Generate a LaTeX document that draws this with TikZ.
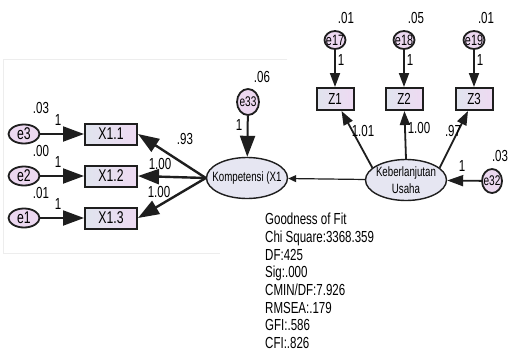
\documentclass[tikz,border=0pt]{standalone}
\usepackage{fontspec}
\setmainfont[FakeStretch=0.72]{Liberation Sans}
\usetikzlibrary{arrows.meta,shapes.geometric}

\definecolor{boxleft}{RGB}{224,228,238}
\definecolor{boxright}{RGB}{238,218,242}
\definecolor{errfill}{RGB}{236,216,240}
\definecolor{latfill}{RGB}{230,230,242}
\definecolor{edge}{RGB}{30,30,30}

\tikzset{
	obsbox/.style={draw=edge, line width=2pt, left color=boxleft, right color=boxright, minimum width=52pt, minimum height=21pt, inner sep=0pt, font=\fontsize{17}{17}\selectfont},
	zbox/.style={obsbox, minimum width=37pt, minimum height=22pt, font=\fontsize{16}{16}\selectfont},
	errshape/.style={ellipse, draw=edge, line width=1.8pt, fill=errfill, inner sep=0pt, minimum width=31pt, minimum height=19pt},
	errnode/.style={errshape, label={[font=\fontsize{17}{17}\selectfont, inner sep=0pt]center:#1}},
	smallerr/.style={errshape, minimum width=21pt, minimum height=18pt, label={[font=\fontsize{15}{15}\selectfont, inner sep=0pt]center:#1}},
	talleerr/.style={errshape, minimum width=21pt, minimum height=25pt, label={[font=\fontsize{14}{14}\selectfont, inner sep=0pt]center:#1}},
	latnode/.style={ellipse, draw=edge, line width=1.4pt, fill=latfill, inner sep=0pt, minimum width=81pt, minimum height=41pt, label={[font=\fontsize{13.5}{17}\selectfont, inner sep=0pt, align=center]center:#1}},
	est/.style={font=\fontsize{16}{16}\selectfont, inner sep=0pt},
	bigarrow/.style={-{Triangle[length=21pt,width=15pt]}, line width=2pt, draw=edge},
	midarrow/.style={-{Triangle[length=14pt,width=10pt]}, line width=1.8pt, draw=edge},
	smallarrow/.style={-{Triangle[length=8pt,width=7pt]}, line width=1.2pt, draw=edge}
}

\begin{document}
\begin{tikzpicture}[x=1pt,y=-1pt]
		%%%%% START %%%%%
		\useasboundingbox[fill=white] (0,0) rectangle (508,351);
		\draw[black!7, line width=0.8pt] (287,59) -- (3,59) -- (3,253) -- (220,253);
		
		% indicators of Kompetensi
		\node[obsbox] (x11) at (111,134) {X1.1};
		\node[obsbox] (x12) at (111,176) {X1.2};
		\node[obsbox] (x13) at (111,218) {X1.3};
		\node[errnode=e3] (e3) at (24,134) {};
		\node[errnode=e2] (e2) at (24,176) {};
		\node[errnode=e1] (e1) at (24,218) {};
		
		% latent variables
		\node[latnode={Kompetensi (X1}] (komp) at (247,178) {};
		\node[latnode={Keberlanjutan\\Usaha}] (keb) at (406,180) {};
		\node[talleerr=e33, minimum width=22pt, minimum height=26pt] (e33) at (248,102) {};
		\node[talleerr=e32, minimum width=20pt, minimum height=24pt] (e32) at (492,181) {};
		
		% indicators of Keberlanjutan Usaha
		\node[zbox] (z1) at (335,99) {Z1};
		\node[zbox] (z2) at (404,99) {Z2};
		\node[zbox] (z3) at (474,99) {Z3};
		\node[smallerr=e17] (e17) at (335,40) {};
		\node[smallerr=e18] (e18) at (404,40) {};
		\node[smallerr=e19] (e19) at (474,40) {};
		
		% paths
		\draw[bigarrow] (e3) -- (x11);
		\draw[bigarrow] (e2) -- (x12);
		\draw[bigarrow] (e1) -- (x13);
		\draw[bigarrow, line width=2.4pt] (komp.west) -- (x11.east);
		\draw[bigarrow, line width=2.4pt] (komp.west) -- (x12.east);
		\draw[bigarrow, line width=2.4pt] (komp.west) -- (x13.east);
		\draw[bigarrow] (e33) -- (komp);
		\draw[smallarrow] (keb) -- (komp);
		\draw[midarrow, -{Triangle[length=16pt,width=11pt]}] (e32) -- (keb);
		\draw[midarrow] (e17) -- (z1);
		\draw[midarrow] (e18) -- (z2);
		\draw[midarrow] (e19) -- (z3);
		\draw[midarrow] (keb.160) -- (z1);
		\draw[midarrow] (keb.north) -- (z2);
		\draw[midarrow] (keb.20) -- (z3);
		
		% estimates
		\node[est] (v3) at (41,108) {.03};
		\node[est] (v2) at (41,151) {.00};
		\node[est] (v1) at (41,193) {.01};
		\node[est] (w3) at (58,120) {1};
		\node[est] (w2) at (58,162) {1};
		\node[est] (w1) at (58,204) {1};
		\node[est] (l11) at (185,139) {.93};
		\node[est] (l12) at (160,164) {1.00};
		\node[est] (l13) at (159,192) {1.00};
		\node[est] (v33) at (262,77) {.06};
		\node[est] (w33) at (239,125) {1};
		\node[est] (v17) at (346,18) {.01};
		\node[est] (v18) at (416,18) {.05};
		\node[est] (v19) at (486,18) {.01};
		\node[est] (w17) at (341,60) {1};
		\node[est] (w18) at (410,60) {1};
		\node[est] (w19) at (480,60) {1};
		\node[est] (lz1) at (363,131) {1.01};
		\node[est] (lz2) at (419,128) {1.00};
		\node[est] (lz3) at (453,131) {.97};
		\node[est] (v32) at (500,156) {.03};
		\node[est] (w32) at (462,166) {1};
		
		% fit indices
		\node[est, anchor=north west, align=left, font=\fontsize{16}{17.7}\selectfont] (fit) at (265,213) {Goodness of Fit\\Chi Square:3368.359\\DF:425\\Sig:.000\\CMIN/DF:7.926\\RMSEA:.179\\GFI:.586\\CFI:.826};
		%%%%% END %%%%%
\end{tikzpicture}
\end{document}
